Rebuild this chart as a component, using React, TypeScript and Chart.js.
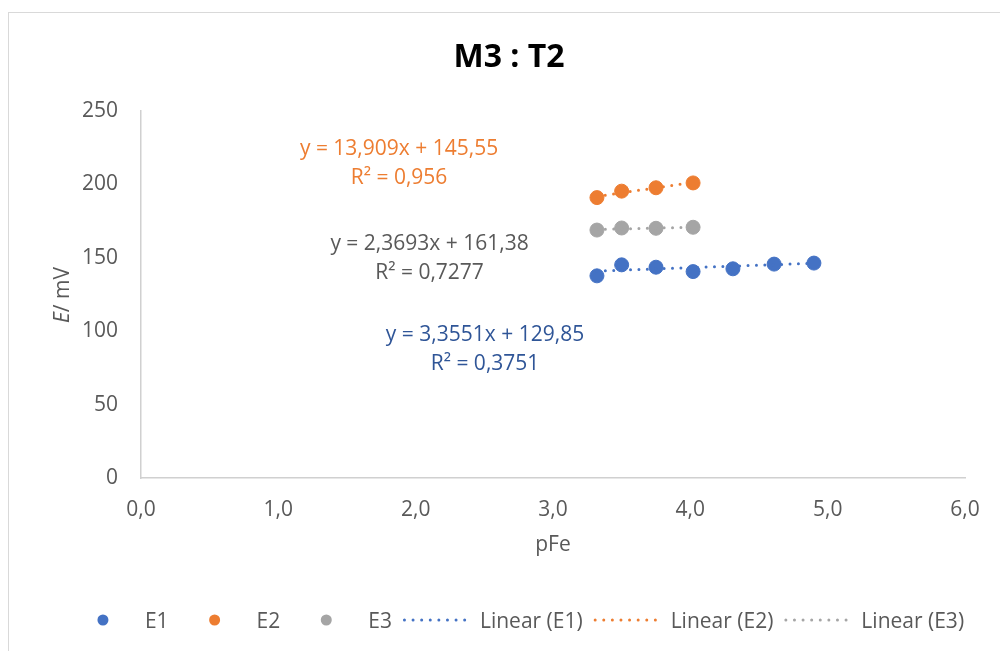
import React, { useEffect, useRef } from 'react';
import { Chart, registerables } from 'chart.js';

Chart.register(...registerables);

// ---- data ----
const seriesNames = ['E1', 'E2', 'E3'];
const e1X = [3.32, 3.5, 3.75, 4.02, 4.31, 4.61, 4.9];
const e1Y = [137.7, 145.2, 143.6, 140.6, 142.5, 145.7, 146.4];
const e2X = [3.32, 3.5, 3.75, 4.02];
const e2Y = [191.0, 195.4, 197.7, 201.0];
const e3X = [3.32, 3.5, 3.75, 4.02];
const e3Y = [168.9, 170.3, 170.1, 170.8];
const trendSlopes = [3.3551, 13.909, 2.3693];
const trendIntercepts = [129.85, 145.55, 161.38];
const trendEquations = ['y = 3,3551x + 129,85', 'y = 13,909x + 145,55', 'y = 2,3693x + 161,38'];
const trendR2 = ['R² = 0,3751', 'R² = 0,956', 'R² = 0,7277'];
const chartTitle = 'M3 : T2';
const xTitle = 'pFe';

// ---- styles ----
const colors = ['#4472C4', '#ED7D31', '#A5A5A5'];
const labelColors = ['#2F5597', '#ED7D31', '#595959'];
const labelAnchors = [
  [2.505, 93.05],
  [1.879, 220.2],
  [2.101, 155.5],
];
const FONT = '"Open Sans", sans-serif';
const TEXT = '#595959';

const overlay = {
  id: 'overlay',
  afterDraw(chart: any) {
    const { ctx } = chart;
    const xs = chart.scales.x;
    const ys = chart.scales.y;
    ctx.save();
    ctx.textBaseline = 'alphabetic';
    // title
    ctx.fillStyle = '#000';
    ctx.font = `bold 32px ${FONT}`;
    ctx.textAlign = 'center';
    ctx.fillText(chartTitle, 509, 66.5);

    // y title (italic E)
    ctx.save();
    ctx.translate(68.5, 295);
    ctx.rotate(-Math.PI / 2);
    const italic = `italic 21px ${FONT}`;
    const normal = `21px ${FONT}`;
    ctx.font = italic;
    const wE = ctx.measureText('E').width;
    ctx.font = normal;
    const wR = ctx.measureText('/ mV').width;
    const st = -(wE + wR) / 2;
    ctx.textAlign = 'left';
    ctx.fillStyle = TEXT;
    ctx.font = italic;
    ctx.fillText('E', st, 0);
    ctx.font = normal;
    ctx.fillText('/ mV', st + wE, 0);
    ctx.restore();

    // trendline equations
    ctx.font = `21px ${FONT}`;
    ctx.textAlign = 'center';
    for (let i = 0; i < 3; i++) {
      const px = xs.getPixelForValue(labelAnchors[i][0]);
      const py = ys.getPixelForValue(labelAnchors[i][1]);
      ctx.fillStyle = labelColors[i];
      ctx.fillText(trendEquations[i], px, py);
      ctx.fillText(trendR2[i], px, py + 29);
    }

    // legend
    ctx.font = `21px ${FONT}`;
    ctx.textAlign = 'left';
    const items: { text: string; color: string; line: boolean }[] = [];
    seriesNames.forEach((n, i) => items.push({ text: n, color: colors[i], line: false }));
    seriesNames.forEach((n, i) => items.push({ text: `Linear (${n})`, color: colors[i], line: true }));
    const sample = 70, g1 = 7, g2 = 11;
    const widths = items.map((it) => ctx.measureText(it.text).width);
    const total = widths.reduce((a, w) => a + sample + g1 + w, 0) + g2 * (items.length - 1);
    let cx = 516 - total / 2;
    const cy = 620;
    items.forEach((it, k) => {
      if (it.line) {
        ctx.save();
        ctx.strokeStyle = it.color;
        ctx.lineWidth = 3;
        ctx.lineCap = 'round';
        ctx.setLineDash([0, 8.6]);
        ctx.beginPath();
        ctx.moveTo(cx + 1.5, cy);
        ctx.lineTo(cx + sample - 1.5, cy);
        ctx.stroke();
        ctx.restore();
      } else {
        ctx.fillStyle = it.color;
        ctx.beginPath();
        ctx.arc(cx + sample / 2, cy, 5.5, 0, Math.PI * 2);
        ctx.fill();
      }
      ctx.fillStyle = TEXT;
      ctx.fillText(it.text, cx + sample + g1, cy + 7.5);
      cx += sample + g1 + widths[k] + g2;
    });
    ctx.restore();
  },
};

export default function App() {
  const ref = useRef<HTMLCanvasElement>(null);
  useEffect(() => {
    if (!ref.current) return;
    const xsArr = [e1X, e2X, e3X];
    const ysArr = [e1Y, e2Y, e3Y];
    const pointSets = xsArr.map((arr, i) => ({
      type: 'scatter' as const,
      label: seriesNames[i],
      data: arr.map((v, j) => ({ x: v, y: ysArr[i][j] })),
      backgroundColor: colors[i],
      borderColor: colors[i],
      pointRadius: 7,
      pointHoverRadius: 7,
      pointBorderWidth: 1,
      showLine: false,
      order: 2,
    }));
    const trendSets = xsArr.map((arr, i) => {
      const lo = Math.min(...arr);
      const hi = Math.max(...arr);
      return {
        type: 'scatter' as const,
        label: `Linear (${seriesNames[i]})`,
        data: [lo, hi].map((v) => ({ x: v, y: trendSlopes[i] * v + trendIntercepts[i] })),
        showLine: true,
        borderColor: colors[i],
        backgroundColor: colors[i],
        borderWidth: 3,
        borderDash: [0, 8.4],
        borderCapStyle: 'round' as const,
        pointRadius: 0,
        pointHoverRadius: 0,
        fill: false,
        order: 1,
      };
    });
    const chart = new Chart(ref.current, {
      type: 'scatter',
      data: { datasets: [...pointSets, ...trendSets] as any },
      plugins: [overlay],
      options: {
        responsive: false,
        animation: false,
        events: [],
        layout: { padding: { top: 111, right: 35, bottom: 0, left: 0 } },
        plugins: {
          legend: { display: false },
          title: { display: false },
          tooltip: { enabled: false },
        },
        scales: {
          x: {
            type: 'linear',
            min: 0,
            max: 6,
            afterFit: (a: any) => {
              a.height = 173;
            },
            grid: { display: false, drawTicks: false },
            border: { display: true, color: '#D0D0D0', width: 1.5 },
            ticks: {
              stepSize: 1,
              padding: 19,
              color: TEXT,
              font: { family: FONT, size: 21 },
              callback: (v: any) => Number(v).toFixed(1).replace('.', ','),
            },
            title: {
              display: true,
              text: xTitle,
              color: TEXT,
              font: { family: FONT, size: 21 },
              padding: { top: 0, bottom: 93 },
            },
          },
          y: {
            type: 'linear',
            min: 0,
            max: 250,
            afterFit: (a: any) => {
              a.width = 141;
            },
            grid: { display: false, drawTicks: false },
            border: { display: true, color: '#D0D0D0', width: 1.5 },
            ticks: {
              stepSize: 50,
              padding: 23,
              color: TEXT,
              font: { family: FONT, size: 21 },
            },
          },
        },
      } as any,
    });
    return () => chart.destroy();
  }, []);

  return (
    <div style={{ position: 'fixed', left: 0, top: 0, width: 1000, height: 651, overflow: 'hidden', background: '#fff' }}>
      <div
        style={{
          position: 'absolute',
          left: 8,
          top: 12,
          width: 1100,
          height: 800,
          border: '1.5px solid #D9D9D9',
          boxSizing: 'border-box',
        }}
      />
      <canvas ref={ref} width={1000} height={651} style={{ position: 'absolute', left: 0, top: 0 }} />
    </div>
  );
}
